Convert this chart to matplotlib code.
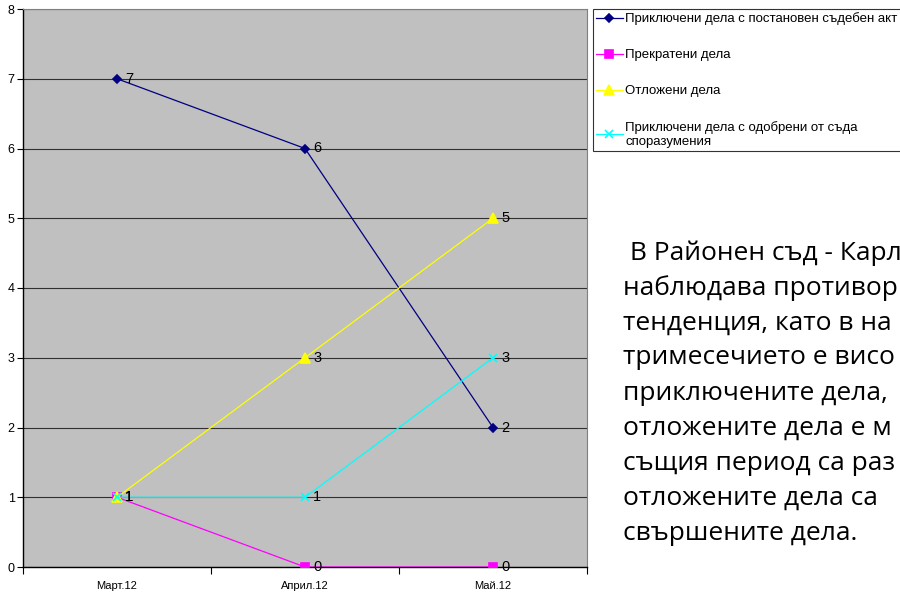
import matplotlib
matplotlib.use("Agg")
import matplotlib.pyplot as plt

# ── data ──────────────────────────────────────────────
months = ["Март.12", "Април.12", "Май.12"]
finished_act = [7, 6, 2]
terminated = [1, 0, 0]
postponed = [1, 3, 5]
finished_agreement = [1, 1, 3]

series_names = [
    "Приключени дела с постановен съдебен акт",
    "Прекратени дела",
    "Отложени дела",
    "Приключени дела с одобрени от съда\nспоразумения",
]

# only the part of the note that is visible in the picture
note_lines = [
    " В Районен съд - Карл",
    "наблюдава противор",
    "тенденция, като в на",
    "тримесечието е висо",
    "приключените дела,",
    "отложените дела е м",
    "същия период са раз",
    "отложените дела са",
    "свършените дела.",
]

plt.rcParams['font.family'] = ['Liberation Sans', 'DejaVu Sans']

fig = plt.figure(figsize=(9, 5.94), dpi=100)
W, H = 900, 594
ax = fig.add_axes([23 / W, (H - 567) / H, 564 / W, 558 / H])
ax.set_facecolor("#C0C0C0")

x = range(len(months))
styles = [
    (finished_act, "#000080", "D", 4.5),
    (terminated, "#FF00FF", "s", 5.5),
    (postponed, "#FFFF00", "^", 6.5),
    (finished_agreement, "#00FFFF", "x", 5.5),
]
handles = []
for (vals, col, mk, ms), name in zip(styles, series_names):
    ln, = ax.plot(x, vals, color=col, marker=mk, markersize=ms, linewidth=0.9,
                  markeredgecolor=col, markerfacecolor=col, markeredgewidth=1.2,
                  zorder=3)
    handles.append(ln)
    for xi, v in zip(x, vals):
        ax.annotate(str(v), (xi, v), xytext=(6, 0), textcoords="offset points",
                    va="center", ha="left", fontsize=10.5, color="black", zorder=4)

ax.set_xlim(-0.5, 2.5)
ax.set_ylim(0, 8)
ax.set_yticks(range(0, 9))
ax.yaxis.grid(True, color="#303030", linewidth=0.8)
ax.set_axisbelow(True)
ax.tick_params(axis="y", labelsize=9, length=4, width=0.8, pad=2)

ax.set_xticks([-0.5, 0.5, 1.5, 2.5])
ax.set_xticklabels([])
ax.set_xticks(list(x), minor=True)
ax.set_xticklabels(months, minor=True, fontsize=8)
ax.tick_params(axis="x", which="major", length=5, width=0.8)
ax.tick_params(axis="x", which="minor", length=0, pad=10)

for s in ["top", "right"]:
    ax.spines[s].set_color("#808080")
    ax.spines[s].set_linewidth(0.8)
for s in ["left", "bottom"]:
    ax.spines[s].set_color("black")
    ax.spines[s].set_linewidth(1.0)

# legend box (partly outside the figure, like the original)
leg = fig.legend(handles, series_names, loc="upper left",
                 bbox_to_anchor=(593 / W, 1 - 9 / H), fontsize=9.5,
                 frameon=True, fancybox=False, edgecolor="black",
                 handlelength=2.0, handletextpad=0.2, labelspacing=1.8,
                 borderpad=0.25, borderaxespad=0)
leg.get_frame().set_linewidth(0.8)

# explanatory text on the right
for i, line in enumerate(note_lines):
    fig.text(623 / W, 1 - (253 + 35 * i) / H, line, fontsize=19,
             family=["Open Sans", "DejaVu Sans"], va="center", ha="left")

fig.savefig("out.png", dpi=100)
